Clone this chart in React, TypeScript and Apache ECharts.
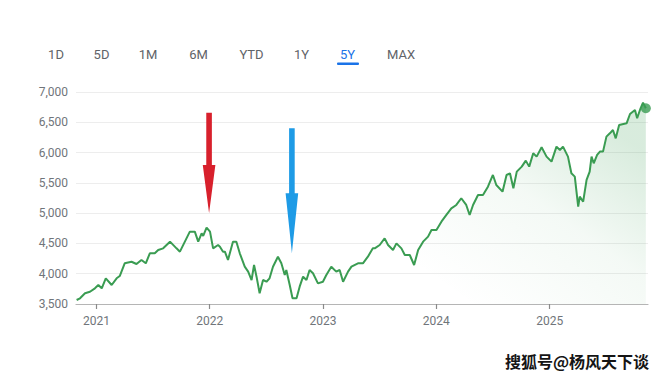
import React, { useEffect, useRef } from "react";
import * as echarts from "echarts";

// ---- data ----
const dates: string[] = [
  "2020-10-29", "2020-11-09", "2020-11-25", "2020-12-11", "2020-12-27",
  "2021-01-07", "2021-01-18", "2021-01-31", "2021-02-19", "2021-03-07",
  "2021-03-17", "2021-04-02", "2021-04-24", "2021-05-10", "2021-05-26",
  "2021-06-09", "2021-06-22", "2021-07-08", "2021-07-19", "2021-08-04",
  "2021-08-26", "2021-09-16", "2021-09-27", "2021-10-13", "2021-10-29",
  "2021-11-14", "2021-11-25", "2021-12-06", "2021-12-11", "2021-12-22",
  "2022-01-02", "2022-01-12", "2022-01-28", "2022-02-03", "2022-02-13",
  "2022-02-19", "2022-03-01", "2022-03-17", "2022-03-28", "2022-04-08",
  "2022-04-24", "2022-05-05", "2022-05-16", "2022-05-24", "2022-06-01",
  "2022-06-11", "2022-06-22", "2022-07-03", "2022-07-13", "2022-07-24",
  "2022-08-09", "2022-08-20", "2022-08-31", "2022-09-05", "2022-09-16",
  "2022-09-25", "2022-10-08", "2022-10-18", "2022-10-29", "2022-11-09",
  "2022-11-19", "2022-11-30", "2022-12-16", "2023-01-01", "2023-01-12",
  "2023-01-28", "2023-02-13", "2023-02-24", "2023-03-07", "2023-03-23",
  "2023-04-03", "2023-04-24", "2023-05-10", "2023-05-26", "2023-06-11",
  "2023-06-17", "2023-07-03", "2023-07-19", "2023-07-30", "2023-08-15",
  "2023-08-26", "2023-09-11", "2023-09-22", "2023-10-08", "2023-10-22",
  "2023-11-04", "2023-11-20", "2023-12-06", "2023-12-17", "2024-01-02",
  "2024-01-18", "2024-02-03", "2024-02-19", "2024-03-06", "2024-03-22",
  "2024-04-07", "2024-04-18", "2024-04-29", "2024-05-15", "2024-05-31",
  "2024-06-16", "2024-07-02", "2024-07-13", "2024-08-02", "2024-08-15",
  "2024-08-26", "2024-09-06", "2024-09-17", "2024-10-03", "2024-10-16",
  "2024-10-27", "2024-11-09", "2024-11-20", "2024-12-06", "2024-12-22",
  "2025-01-07", "2025-01-23", "2025-02-03", "2025-02-13", "2025-03-01",
  "2025-03-12", "2025-03-23", "2025-04-03", "2025-04-08", "2025-04-19",
  "2025-04-30", "2025-05-10", "2025-05-16", "2025-05-23", "2025-06-03",
  "2025-06-12", "2025-06-22", "2025-07-03", "2025-07-14", "2025-07-24",
  "2025-08-02", "2025-08-13", "2025-09-06", "2025-09-17", "2025-10-03",
  "2025-10-10", "2025-10-21", "2025-10-29", "2025-11-07",
];

const values: number[] = [
  3566, 3594, 3677, 3703, 3759,
  3814, 3759, 3924, 3814, 3924,
  3962, 4172, 4198, 4160, 4226,
  4172, 4337, 4337, 4391, 4419,
  4529, 4419, 4364, 4529, 4694,
  4694, 4529, 4667, 4623, 4760,
  4694, 4419, 4474, 4446, 4364,
  4364, 4226, 4529, 4529, 4337,
  4116, 4034, 3896, 4144, 3951,
  3677, 3896, 3868, 3924, 4116,
  4281, 4172, 3979, 4061, 3814,
  3594, 3594, 3786, 3951, 3896,
  4061, 4007, 3841, 3868, 3979,
  4116, 4034, 4061, 3868, 4034,
  4116, 4172, 4172, 4281, 4419,
  4419, 4474, 4584, 4474, 4391,
  4501, 4419, 4309, 4309, 4144,
  4391, 4529, 4612, 4722, 4722,
  4859, 4970, 5080, 5135, 5246,
  5135, 4970, 5135, 5300, 5300,
  5437, 5630, 5465, 5355, 5630,
  5658, 5410, 5685, 5768, 5867,
  5768, 5988, 5933, 6087, 5933,
  5850, 6098, 6043, 6098, 5933,
  5658, 5603, 5107, 5272, 5190,
  5548, 5685, 5933, 5823, 5961,
  6016, 6016, 6263, 6318, 6373,
  6235, 6456, 6483, 6637, 6703,
  6566, 6731, 6825, 6731,
];

const yearTicks: string[] = ["2021", "2022", "2023", "2024", "2025"];
const xRange: string[] = ["2020-10-27", "2025-11-14"];
const tabs: string[] = ["1D", "5D", "1M", "6M", "YTD", "1Y", "5Y", "MAX"];
const activeTab = "5Y";
const watermark = "搜狐号@杨风天下谈";

// arrows: date, tip value, tail value, colour
const arrows: { date: string; tip: number; tail: number; color: string }[] = [
  { date: "2021-12-30", tip: 4997, tail: 6658, color: "#d8202c" },
  { date: "2022-09-23", tip: 4337, tail: 6401, color: "#1e9be6" },
];

const GREEN = "#3a9c52";

const ts = (d: string) => {
  const [y, m, dd] = d.split("-").map(Number);
  return Date.UTC(y, m - 1, dd);
};

export default function App() {
  const ref = useRef<HTMLDivElement>(null);

  useEffect(() => {
    if (!ref.current) return;
    const chart = echarts.init(ref.current, null, { renderer: "svg" });
    const tickValues = yearTicks.map((y) => Date.UTC(Number(y), 0, 1));
    const seriesData = dates.map((d, i) => [ts(d), values[i]]);
    const last = seriesData[seriesData.length - 1];

    chart.setOption({
      animation: false,
      backgroundColor: "#ffffff",
      grid: { left: 76, right: 12, top: 92, bottom: 75 },
      xAxis: {
        type: "value",
        min: ts(xRange[0]),
        max: ts(xRange[1]),
        axisLine: { show: true, lineStyle: { color: "#b5b5b5", width: 1.2 } },
        axisTick: {
          show: true,
          customValues: tickValues,
          length: 5,
          lineStyle: { color: "#8a8a8a", width: 1.2 },
        },
        axisLabel: {
          customValues: tickValues,
          formatter: (v: number) => String(new Date(v).getUTCFullYear()),
          color: "#70757a",
          fontSize: 12,
          fontFamily: "Roboto",
          margin: 11,
        },
        splitLine: { show: false },
      },
      yAxis: {
        type: "value",
        min: 3500,
        max: 7000,
        interval: 500,
        axisLine: { show: false },
        axisTick: { show: false },
        axisLabel: {
          formatter: (v: number) => v.toLocaleString("en-US"),
          color: "#70757a",
          fontSize: 12,
          fontFamily: "Roboto",
          margin: 8,
        },
        splitLine: { lineStyle: { color: "#ededed", width: 1 } },
      },
      series: [
        {
          type: "line",
          data: seriesData,
          showSymbol: false,
          symbol: "none",
          lineStyle: { color: GREEN, width: 2 },
          areaStyle: {
            origin: "start",
            color: new echarts.graphic.LinearGradient(0, 0.75, 1, 0.25, [
              { offset: 0, color: "rgba(58,156,82,0)" },
              { offset: 0.45, color: "rgba(58,156,82,0)" },
              { offset: 0.75, color: "rgba(58,156,82,0.08)" },
              { offset: 1, color: "rgba(58,156,82,0.28)" },
            ]),
          },
          z: 2,
        },
        {
          type: "scatter",
          data: [last],
          symbolSize: 10,
          itemStyle: { color: GREEN },
          z: 3,
        },
      ],
    });

    const tabX = [56, 101.5, 148, 198.5, 251.5, 301.5, 347.5, 401];
    const graphics: any[] = [];
    tabs.forEach((t, i) => {
      graphics.push({
        type: "text",
        x: tabX[i],
        y: 54,
        style: {
          text: t,
          fill: t === activeTab ? "#1a73e8" : "#5f6368",
          font: "13px Roboto",
          textAlign: "center",
          textVerticalAlign: "middle",
        },
      });
    });
    graphics.push({
      type: "rect",
      shape: { x: 337, y: 62.5, width: 22, height: 2.5, r: 1 },
      style: { fill: "#1a73e8" },
    });

    arrows.forEach((a) => {
      const tip = chart.convertToPixel({ gridIndex: 0 }, [ts(a.date), a.tip]) as number[];
      const tail = chart.convertToPixel({ gridIndex: 0 }, [ts(a.date), a.tail]) as number[];
      if (!tip || !tail) return;
      const cx = tip[0];
      const headLen = (tip[1] - tail[1]) * 0.48;
      const headTop = tip[1] - headLen;
      const sw = 2.8;
      const hw = 6.3;
      graphics.push({
        type: "polygon",
        shape: {
          points: [
            [cx - sw, tail[1]],
            [cx + sw, tail[1]],
            [cx + sw, headTop],
            [cx + hw, headTop],
            [cx, tip[1]],
            [cx - hw, headTop],
            [cx - sw, headTop],
          ],
        },
        style: { fill: a.color },
        z: 10,
      });
    });

    graphics.push({
      type: "text",
      x: 649,
      y: 361,
      style: {
        text: watermark,
        fill: "#151515",
        font: "bold 16px 'Noto Sans CJK SC'",
        textAlign: "right",
        textVerticalAlign: "middle",
        stroke: "#ffffff",
        lineWidth: 1,
      },
      z: 20,
    });

    chart.setOption({ graphic: graphics });

    return () => chart.dispose();
  }, []);

  return (
    <div
      ref={ref}
      style={{ position: "fixed", left: 0, top: 0, width: 660, height: 379, background: "#fff" }}
    />
  );
}
